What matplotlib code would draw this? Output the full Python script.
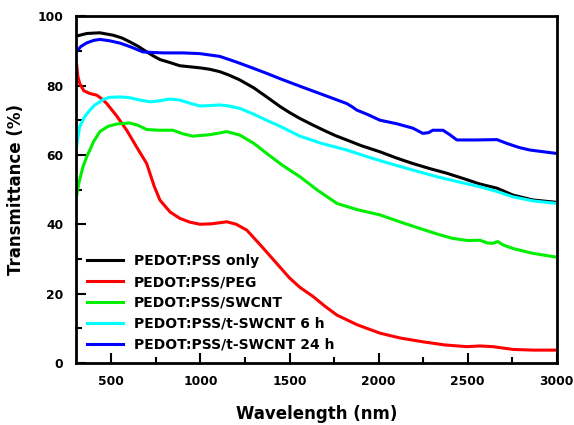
import numpy as np
import matplotlib.pyplot as plt
from matplotlib.ticker import MultipleLocator

plt.rcParams['font.family'] = ['DejaVu Sans']
plt.rcParams['font.weight'] = 'bold'

# Wavelength (nm) and transmittance (%)
wl_black = [300, 362, 435, 510, 560, 603, 650, 698, 740, 772, 830, 884, 940, 996, 1050,
            1108, 1160, 1221, 1300, 1372, 1445, 1500, 1558, 1631, 1700, 1760, 1821,
            1900, 2007, 2100, 2192, 2290, 2383, 2480, 2568, 2664, 2754, 2866, 3000]
t_black = [94.2, 95.0, 95.2, 94.5, 93.7, 92.6, 91.3, 89.7, 88.4, 87.5, 86.6, 85.7, 85.4,
           85.1, 84.7, 84.0, 83.0, 81.6, 79.3, 76.7, 74.0, 72.2, 70.5, 68.6, 66.9, 65.5,
           64.3, 62.7, 60.9, 59.1, 57.5, 56.0, 54.7, 53.1, 51.6, 50.4, 48.4, 47.0, 46.3]

wl_red = [305, 312, 322, 345, 379, 418, 445, 474, 530, 586, 640, 698, 740, 772, 788,
          830, 884, 940, 996, 1060, 1148, 1200, 1260, 1340, 1445, 1500, 1558, 1631,
          1700, 1766, 1880, 2007, 2120, 2248, 2370, 2495, 2568, 2641, 2754, 2870, 3000]
t_red = [85.9, 82.5, 80.6, 78.5, 77.7, 77.2, 76.2, 74.8, 71.2, 67.1, 62.4, 57.5, 51.0,
         47.0, 46.0, 43.5, 41.7, 40.6, 40.0, 40.1, 40.7, 40.0, 38.3, 33.8, 27.7, 24.5,
         21.8, 19.2, 16.3, 13.8, 11.0, 8.6, 7.2, 6.1, 5.2, 4.7, 4.9, 4.7, 3.9, 3.7, 3.7]

wl_green = [300, 318, 340, 362, 400, 435, 480, 530, 603, 650, 698, 770, 845, 900, 957,
            1050, 1148, 1221, 1300, 1372, 1460, 1558, 1660, 1766, 1880, 2007, 2130,
            2248, 2340, 2417, 2500, 2568, 2610, 2641, 2669, 2700, 2754, 2866, 3000]
t_green = [47.0, 52.0, 56.5, 59.5, 63.8, 66.7, 68.2, 68.9, 69.2, 68.5, 67.3, 67.1, 67.1,
           66.1, 65.4, 65.8, 66.7, 65.7, 63.3, 60.4, 57.0, 53.7, 49.7, 46.0, 44.2, 42.7,
           40.5, 38.5, 37.0, 35.9, 35.3, 35.4, 34.6, 34.5, 35.0, 34.0, 33.0, 31.6, 30.5]

wl_cyan = [300, 310, 322, 350, 379, 405, 435, 460, 491, 550, 600, 660, 716, 770, 828,
           884, 940, 996, 1050, 1108, 1160, 1221, 1300, 1370, 1445, 1558, 1680, 1821,
           1940, 2063, 2200, 2327, 2450, 2568, 2660, 2754, 2870, 3000]
t_cyan = [60.4, 64.5, 68.1, 71.0, 72.9, 74.3, 75.3, 76.1, 76.6, 76.7, 76.5, 75.8, 75.3,
          75.6, 76.1, 75.8, 74.9, 74.1, 74.2, 74.4, 74.1, 73.4, 71.7, 70.0, 68.3, 65.4,
          63.3, 61.4, 59.4, 57.5, 55.5, 53.7, 52.2, 50.8, 49.5, 47.9, 46.7, 46.0]

wl_blue = [300, 330, 362, 400, 435, 490, 550, 610, 676, 740, 800, 900, 996, 1108, 1200,
           1290, 1372, 1445, 1558, 1690, 1821, 1850, 1878, 1940, 2007, 2100, 2192, 2248,
           2280, 2304, 2361, 2400, 2439, 2550, 2664, 2720, 2790, 2849, 3000]
t_blue = [89.7, 91.3, 92.3, 93.0, 93.3, 92.9, 92.2, 91.1, 89.7, 89.5, 89.4, 89.4, 89.2,
          88.4, 86.8, 85.1, 83.5, 82.0, 79.8, 77.3, 74.8, 73.9, 72.9, 71.6, 70.0, 69.0,
          67.7, 66.2, 66.4, 67.1, 67.1, 65.8, 64.3, 64.3, 64.4, 63.3, 62.1, 61.4, 60.4]

labels = ['PEDOT:PSS only', 'PEDOT:PSS/PEG', 'PEDOT:PSS/SWCNT',
          'PEDOT:PSS/t-SWCNT 6 h', 'PEDOT:PSS/t-SWCNT 24 h']
colors = ['#000000', '#ff0000', '#00ee00', '#00ffff', '#0000ff']
series = [(wl_black, t_black), (wl_red, t_red), (wl_green, t_green),
          (wl_cyan, t_cyan), (wl_blue, t_blue)]

fig = plt.figure(figsize=(5.74, 4.25), dpi=100)
ax = fig.add_axes([0.132, 0.146, 0.838, 0.816])

for (x, y), c, lab in zip(series, colors, labels):
    ax.plot(x, y, color=c, linewidth=2.2, label=lab, solid_joinstyle='round')

ax.set_xlim(300, 3000)
ax.set_ylim(0, 100)
ax.xaxis.set_major_locator(MultipleLocator(500))
ax.xaxis.set_minor_locator(MultipleLocator(250))
ax.yaxis.set_major_locator(MultipleLocator(20))
ax.yaxis.set_minor_locator(MultipleLocator(10))
ax.tick_params(which='both', direction='in', width=1.5, labelsize=8.8, pad=9)
ax.tick_params(which='major', length=7)
ax.tick_params(which='minor', length=4)
for s in ax.spines.values():
    s.set_linewidth(2)

ax.set_xlabel('Wavelength (nm)', fontsize=12, fontweight='bold', labelpad=12)
ax.set_ylabel('Transmittance (%)', fontsize=12, fontweight='bold', labelpad=9)

ax.legend(loc='lower left', bbox_to_anchor=(0.0, 0.0), frameon=False,
          prop={'weight': 'bold', 'size': 10}, handlelength=2.6,
          labelspacing=0.5, borderaxespad=0.4)

fig.savefig('out.png', dpi=100)
